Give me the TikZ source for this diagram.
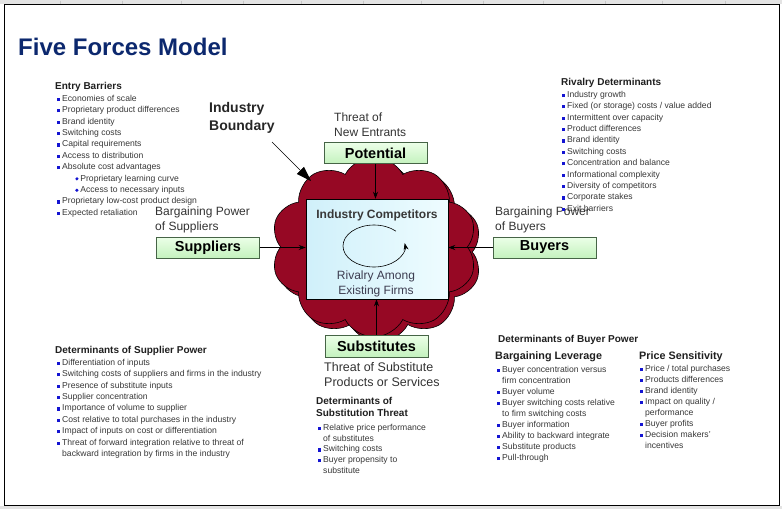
\documentclass[tikz,border=0pt]{standalone}
\usepackage{fontspec}
\setmainfont{Liberation Sans}
\usepackage{graphicx}
\usetikzlibrary{shapes.symbols,arrows.meta}
\definecolor{cloudred}{RGB}{150,8,36}
\definecolor{navy}{RGB}{12,40,110}
\definecolor{bulblue}{RGB}{20,20,210}
\definecolor{boxtop}{RGB}{236,255,232}
\definecolor{boxbot}{RGB}{196,242,190}
\definecolor{boxedge}{RGB}{70,100,70}
\definecolor{txt}{RGB}{55,55,55}
\definecolor{cyanl}{RGB}{208,240,250}
\definecolor{cyanr}{RGB}{238,252,255}
\definecolor{rivtxt}{RGB}{60,60,80}
\newcommand\bsq{\textcolor{bulblue}{\rule[0.3pt]{3.2pt}{3.2pt}}\hspace{1.8pt}}
\newcommand\bdia{\hspace*{18pt}\textcolor{bulblue}{\raisebox{0.6pt}{\rotatebox{45}{\rule{2.4pt}{2.4pt}}}}\hspace{1.8pt}}
\newcommand\bcont{\hspace*{5pt}}
\begin{document}
\begin{tikzpicture}[x=1pt,y=-1pt,
  lst/.style={anchor=north west, inner sep=0pt, align=left, text=txt, font=\fontsize{8.6}{11.4}\selectfont},
  hd/.style={anchor=north west, inner sep=0pt, align=left, text=black!88, font=\bfseries\fontsize{10}{12}\selectfont},
  big/.style={anchor=north west, inner sep=0pt, align=left, text=black!80, font=\fontsize{12}{15}\selectfont},
  forcebox/.style={draw=boxedge, line width=0.6pt, top color=boxtop, bottom color=boxbot, minimum width=103pt, minimum height=21pt, inner sep=0pt, font=\bfseries\fontsize{14.5}{16}\selectfont},
  cloudy/.style={cloud, cloud puffs=10, cloud puff arc=125, aspect=1.3, minimum width=206pt, minimum height=180pt, inner sep=0pt, fill=cloudred, draw=black, line width=0.6pt},
  arr/.style={-{Stealth[length=7pt,width=5pt]}, line width=0.6pt}
]
\useasboundingbox (0,0) rectangle (782,509);
% frame
\fill[gray!22] (0,0) rectangle (782,4);
\fill[gray!22] (0,505.5) rectangle (782,509);
\foreach \tx in {60,122,181,243,301,363,421,483,543,605,662,725}
  \draw[gray!45, line width=0.4pt] (\tx,0.5) -- (\tx,3.5);
\draw[line width=1pt] (4,4.5) rectangle (779.5,505);

% title
\node[anchor=base west, inner sep=0pt, font=\bfseries\fontsize{24}{26}\selectfont, text=navy] (title) at (18,55) {Five Forces Model};

% cloud with shadow
\node[cloudy] (cloudsh) at (379,252) {};
\node[cloudy] (cloud) at (374,247) {};

% industry competitors box
\node[draw=black, line width=0.5pt, left color=cyanl, right color=cyanr, minimum width=142pt, minimum height=100pt, inner sep=0pt] (comp) at (377,249) {};
\node[anchor=base, inner sep=0pt, font=\bfseries\fontsize{12}{14}\selectfont, text=black!78] (ic) at (377,218.3) {Industry Competitors};
\node[anchor=north, inner sep=0pt, align=center, text=rivtxt, font=\fontsize{12}{15}\selectfont] (riv) at (376,270.6) {Rivalry Among\\Existing Firms};
\coordinate (rc) at (374,246);
\draw[arr] ([shift={(45:31pt and 21pt)}]rc) arc[start angle=45, end angle=368, x radius=31pt, y radius=21pt];

% force boxes
\node[forcebox] (pot) at (375.5,153) {Potential};
\node[forcebox] (sup) at (208,247.5) {Suppliers};
\node[forcebox] (buy) at (544.5,247.5) {Buyers};
\node[forcebox, minimum height=22pt] (sub) at (376.5,346) {Substitutes};

% arrows
\draw[arr] (pot.south) -- (pot.south |- comp.north);
\draw[arr] (sup.east) -- (sup.east -| comp.west);
\draw[arr] (buy.west) -- (buy.west -| comp.east);
\draw[arr] (sub.north) -- (sub.north |- comp.south);

% industry boundary
\node[anchor=north west, inner sep=0pt, align=left, text=black!85, font=\bfseries\fontsize{14}{18}\selectfont] (ib) at (209,101.9) {Industry\\Boundary};
\coordinate (bs) at (272,142);
\coordinate (bt) at (311,181);
\draw[line width=0.6pt, -{Triangle[length=15pt,width=10pt]}] (bs) -- (bt);

% force labels
\node[big] (tne) at (334,112.6) {Threat of\\New Entrants};
\node[big] (bps) at (155,206.6) {Bargaining Power\\of Suppliers};
\node[big] (bpb) at (495,206.6) {Bargaining Power\\of Buyers};
\node[big, font=\fontsize{12.5}{14.5}\selectfont] (tsp) at (324,362.5) {Threat of Substitute\\Products or Services};

% entry barriers
\node[hd] (ebh) at (55,82.4) {Entry Barriers};
\node[lst] (ebl) at (57,94.9) {\bsq Economies of scale\\
\bsq Proprietary product differences\\
\bsq Brand identity\\
\bsq Switching costs\\
\bsq Capital requirements\\
\bsq Access to distribution\\
\bsq Absolute cost advantages\\
\bdia Proprietary learning curve\\
\bdia Access to necessary inputs\\
\bsq Proprietary low-cost product design\\
\bsq Expected retaliation};

% rivalry determinants
\node[hd] (rdh) at (561,78.4) {Rivalry Determinants};
\node[lst] (rdl) at (562,90.9) {\bsq Industry growth\\
\bsq Fixed (or storage) costs / value added\\
\bsq Intermittent over capacity\\
\bsq Product differences\\
\bsq Brand identity\\
\bsq Switching costs\\
\bsq Concentration and balance\\
\bsq Informational complexity\\
\bsq Diversity of competitors\\
\bsq Corporate stakes\\
\bsq Exit barriers};

% supplier power
\node[hd] (dsh) at (55,346.4) {Determinants of Supplier Power};
\node[lst] (dsl) at (57,358.9) {\bsq Differentiation of inputs\\
\bsq Switching costs of suppliers and firms in the industry\\
\bsq Presence of substitute inputs\\
\bsq Supplier concentration\\
\bsq Importance of volume to supplier\\
\bsq Cost relative to total purchases in the industry\\
\bsq Impact of inputs on cost or differentiation\\
\bsq Threat of forward integration relative to threat of\\
\bcont backward integration by firms in the industry};

% substitution threat
\node[hd] (dth) at (316,397.4) {Determinants of\\Substitution Threat};
\node[lst, font=\fontsize{8.6}{10.8}\selectfont] (dtl) at (318,423.9) {\bsq Relative price performance\\
\bcont of substitutes\\
\bsq Switching costs\\
\bsq Buyer propensity to\\
\bcont substitute};

% buyer power
\node[hd] (dbh) at (498,335.4) {Determinants of Buyer Power};
\node[hd, font=\bfseries\fontsize{10.8}{13}\selectfont] (blh) at (495,351.1) {Bargaining Leverage};
\node[hd, font=\bfseries\fontsize{10.8}{13}\selectfont] (psh) at (639,351.1) {Price Sensitivity};
\node[lst, font=\fontsize{8.6}{11}\selectfont] (bll) at (497,365.9) {\bsq Buyer concentration versus\\
\bcont firm concentration\\
\bsq Buyer volume\\
\bsq Buyer switching costs relative\\
\bcont to firm switching costs\\
\bsq Buyer information\\
\bsq Ability to backward integrate\\
\bsq Substitute products\\
\bsq Pull-through};
\node[lst, font=\fontsize{8.6}{11}\selectfont] (psl) at (640,364.9) {\bsq Price / total purchases\\
\bsq Products differences\\
\bsq Brand identity\\
\bsq Impact on quality /\\
\bcont performance\\
\bsq Buyer profits\\
\bsq Decision makers'\\
\bcont incentives};
\end{tikzpicture}
\end{document}
